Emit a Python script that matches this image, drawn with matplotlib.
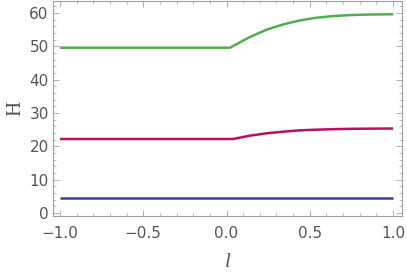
import matplotlib
matplotlib.use("Agg")
import matplotlib.pyplot as plt
from matplotlib.ticker import MultipleLocator

# Data
l_blue = [-1.0, 1.0]
H_blue = [4.6, 4.6]

l_red = [-1.0, 0.04, 0.14, 0.24, 0.34, 0.44, 0.54, 0.64, 0.74, 0.84, 1.0]
H_red = [22.2, 22.2, 23.2, 23.9, 24.4, 24.8, 25.0, 25.15, 25.25, 25.3, 25.35]

l_green = [-1.0, 0.02, 0.14, 0.24, 0.34, 0.44, 0.54, 0.64, 0.74, 0.84, 1.0]
H_green = [49.6, 49.6, 52.8, 55.0, 56.6, 57.8, 58.6, 59.1, 59.4, 59.55, 59.65]

xticks = [-1.0, -0.5, 0.0, 0.5, 1.0]
xtick_labels = ["\u22121.0", "\u22120.5", "0.0", "0.5", "1.0"]
yticks = [0, 10, 20, 30, 40, 50, 60]

fig = plt.figure(figsize=(4.07, 2.73), dpi=100)
ax = fig.add_axes([0.130, 0.209, 0.858, 0.787])

ax.plot(l_blue, H_blue, color="#3d3d9c", lw=1.8, solid_capstyle="butt")
ax.plot(l_red, H_red, color="#b8105c", lw=1.8, solid_capstyle="butt")
ax.plot(l_green, H_green, color="#52ad4f", lw=1.8, solid_capstyle="butt")

ax.set_xlim(-1.042, 1.054)
ax.set_ylim(-0.9, 63.6)

ax.set_xticks(xticks)
ax.set_xticklabels(xtick_labels)
ax.set_yticks(yticks)
ax.xaxis.set_minor_locator(MultipleLocator(0.1))
ax.yaxis.set_minor_locator(MultipleLocator(2))

for s in ax.spines.values():
    s.set_color("#a0a0a0")
    s.set_linewidth(0.8)

ax.tick_params(which="both", direction="in", top=True, right=True, colors="#a0a0a0",
               labelcolor="#555555", labelsize=11)
ax.tick_params(which="major", length=4, width=0.6)
ax.tick_params(which="minor", length=2, width=0.5)
ax.tick_params(axis="x", pad=7)
ax.tick_params(axis="y", pad=3)

ax.set_xlabel("l", fontfamily="Liberation Serif", fontstyle="italic", fontsize=15,
              color="#555555", labelpad=9)
ax.set_ylabel("H", fontfamily="Liberation Serif", fontsize=15, color="#555555",
              labelpad=3)

fig.savefig("out.png", dpi=100)
